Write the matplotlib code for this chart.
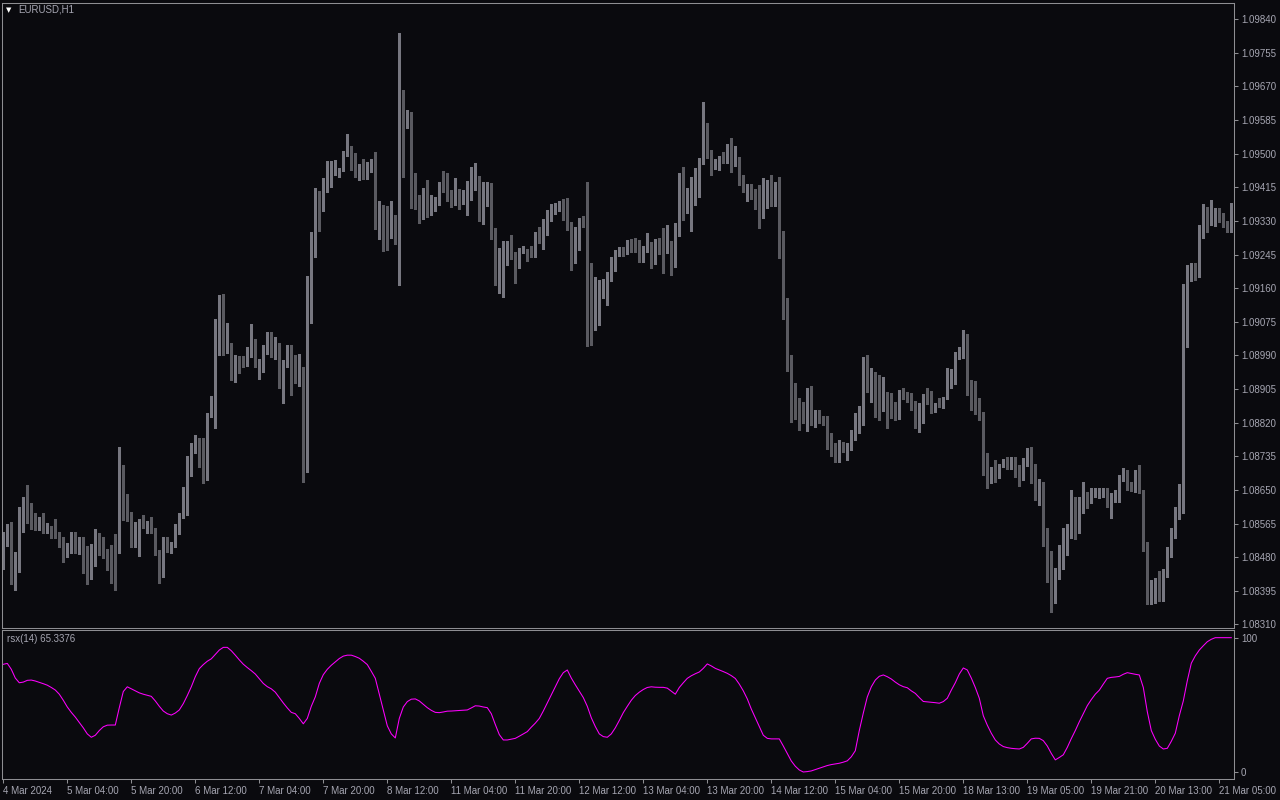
import matplotlib
matplotlib.use('Agg')
import matplotlib.pyplot as plt
import numpy as np

# EURUSD H1 candles (bar 0 = 4 Mar 12:00)
opens = [
    1.08483, 1.08531, 1.08559, 1.08422, 1.08481, 1.08592, 1.08627, 1.08610, 1.08574, 1.08560,
    1.08559, 1.08551, 1.08544, 1.08541, 1.08534, 1.08526, 1.08488, 1.08496, 1.08539, 1.08501,
    1.08526, 1.08463, 1.08458, 1.08466, 1.08503, 1.08498, 1.08491, 1.08466, 1.08460, 1.08501,
    1.08708, 1.08605, 1.08594, 1.08519, 1.08521, 1.08572, 1.08551, 1.08556, 1.08551, 1.08493,
    1.08433, 1.08524, 1.08501, 1.08511, 1.08541, 1.08582, 1.08612, 1.08723, 1.08759, 1.08769,
    1.08751, 1.08681, 1.08837, 1.08824, 1.09047, 1.09115, 1.09017, 1.09022, 1.08961, 1.08981,
    1.08979, 1.08971, 1.08989, 1.09027, 1.08974, 1.08976, 1.08996, 1.09029, 1.08996, 1.09014,
    1.08931, 1.08969, 1.09012, 1.08961, 1.08931, 1.08936, 1.08716, 1.09151, 1.09290, 1.09393,
    1.09358, 1.09411, 1.09459, 1.09462, 1.09449, 1.09456, 1.09502, 1.09504, 1.09474, 1.09449,
    1.09467, 1.09449, 1.09456, 1.09472, 1.09328, 1.09353, 1.09345, 1.09325, 1.09340, 1.09310,
    1.09575, 1.09568, 1.09603, 1.09398, 1.09383, 1.09363, 1.09411, 1.09355, 1.09358, 1.09371,
    1.09419, 1.09414, 1.09398, 1.09378, 1.09406, 1.09381, 1.09406, 1.09411, 1.09411, 1.09439,
    1.09338, 1.09406, 1.09419, 1.09290, 1.09191, 1.09234, 1.09259, 1.09267, 1.09247, 1.09234,
    1.09252, 1.09254, 1.09252, 1.09242, 1.09300, 1.09277, 1.09328, 1.09353, 1.09350, 1.09360,
    1.09376, 1.09371, 1.09312, 1.09239, 1.09295, 1.09330, 1.09328, 1.09194, 1.09105, 1.09163,
    1.09168, 1.09168, 1.09183, 1.09231, 1.09247, 1.09257, 1.09247, 1.09267, 1.09262, 1.09262,
    1.09231, 1.09259, 1.09272, 1.09224, 1.09280, 1.09274, 1.09259, 1.09267, 1.09221, 1.09300,
    1.09414, 1.09358, 1.09363, 1.09411, 1.09424, 1.09479, 1.09563, 1.09504, 1.09464, 1.09474,
    1.09482, 1.09477, 1.09525, 1.09477, 1.09482, 1.09431, 1.09414, 1.09416, 1.09391, 1.09371,
    1.09345, 1.09368, 1.09406, 1.09386, 1.09408, 1.09290, 1.09113, 1.08969, 1.08870, 1.08862,
    1.08857, 1.08842, 1.08905, 1.08837, 1.08845, 1.08835, 1.08819, 1.08771, 1.08764, 1.08723,
    1.08764, 1.08756, 1.08761, 1.08789, 1.08799, 1.08819, 1.08976, 1.08900, 1.08931, 1.08867,
    1.08855, 1.08877, 1.08870, 1.08855, 1.08830, 1.08898, 1.08890, 1.08893, 1.08857, 1.08830,
    1.08845, 1.08888, 1.08885, 1.08847, 1.08870, 1.08862, 1.08883, 1.08913, 1.08926, 1.08984,
    1.08989, 1.09019, 1.08916, 1.08885, 1.08852, 1.08847, 1.08721, 1.08681, 1.08703, 1.08685,
    1.08716, 1.08718, 1.08711, 1.08728, 1.08688, 1.08678, 1.08723, 1.08736, 1.08700, 1.08635,
    1.08668, 1.08541, 1.08468, 1.08372, 1.08433, 1.08498, 1.08508, 1.08534, 1.08620, 1.08577,
    1.08630, 1.08630, 1.08620, 1.08640, 1.08630, 1.08640, 1.08650, 1.08610, 1.08636, 1.08632,
    1.08683, 1.08693, 1.08657, 1.08647, 1.08693, 1.08645, 1.08516, 1.08385, 1.08390, 1.08420,
    1.08417, 1.08440, 1.08491, 1.08541, 1.08597, 1.08612, 1.09135, 1.09201, 1.09199, 1.09194,
    1.09312, 1.09363, 1.09325, 1.09338, 1.09345, 1.09343, 1.09325, 1.09307,
]
highs = [
    1.08544, 1.08564, 1.08569, 1.08493, 1.08607, 1.08632, 1.08663, 1.08617, 1.08592, 1.08582,
    1.08592, 1.08567, 1.08559, 1.08577, 1.08544, 1.08531, 1.08516, 1.08544, 1.08544, 1.08531,
    1.08531, 1.08508, 1.08514, 1.08551, 1.08541, 1.08531, 1.08501, 1.08511, 1.08539, 1.08759,
    1.08713, 1.08640, 1.08594, 1.08569, 1.08577, 1.08587, 1.08572, 1.08582, 1.08554, 1.08498,
    1.08531, 1.08531, 1.08519, 1.08564, 1.08592, 1.08658, 1.08736, 1.08769, 1.08789, 1.08781,
    1.08781, 1.08845, 1.08888, 1.09082, 1.09143, 1.09146, 1.09072, 1.09022, 1.08991, 1.08989,
    1.08989, 1.09012, 1.09070, 1.09032, 1.08981, 1.09017, 1.09049, 1.09049, 1.09037, 1.09022,
    1.08979, 1.09017, 1.09017, 1.08991, 1.08994, 1.08961, 1.09191, 1.09302, 1.09414, 1.09406,
    1.09439, 1.09482, 1.09482, 1.09484, 1.09464, 1.09507, 1.09550, 1.09520, 1.09502, 1.09474,
    1.09487, 1.09479, 1.09487, 1.09504, 1.09381, 1.09371, 1.09368, 1.09381, 1.09345, 1.09805,
    1.09661, 1.09611, 1.09606, 1.09451, 1.09396, 1.09414, 1.09434, 1.09396, 1.09391, 1.09429,
    1.09456, 1.09451, 1.09408, 1.09439, 1.09411, 1.09408, 1.09431, 1.09467, 1.09477, 1.09444,
    1.09429, 1.09429, 1.09426, 1.09312, 1.09262, 1.09280, 1.09280, 1.09295, 1.09252, 1.09262,
    1.09267, 1.09259, 1.09267, 1.09302, 1.09315, 1.09335, 1.09358, 1.09373, 1.09376, 1.09381,
    1.09386, 1.09388, 1.09328, 1.09315, 1.09338, 1.09343, 1.09429, 1.09224, 1.09189, 1.09181,
    1.09183, 1.09201, 1.09239, 1.09257, 1.09264, 1.09264, 1.09282, 1.09285, 1.09287, 1.09282,
    1.09267, 1.09300, 1.09277, 1.09285, 1.09287, 1.09312, 1.09320, 1.09280, 1.09325, 1.09451,
    1.09467, 1.09414, 1.09441, 1.09464, 1.09489, 1.09631, 1.09578, 1.09509, 1.09487, 1.09494,
    1.09504, 1.09525, 1.09540, 1.09520, 1.09492, 1.09446, 1.09424, 1.09424, 1.09411, 1.09421,
    1.09439, 1.09434, 1.09446, 1.09429, 1.09441, 1.09305, 1.09135, 1.08991, 1.08921, 1.08883,
    1.08872, 1.08908, 1.08913, 1.08852, 1.08852, 1.08837, 1.08837, 1.08794, 1.08769, 1.08776,
    1.08771, 1.08769, 1.08802, 1.08845, 1.08862, 1.08986, 1.08991, 1.08958, 1.08948, 1.08941,
    1.08936, 1.08898, 1.08895, 1.08872, 1.08903, 1.08908, 1.08898, 1.08895, 1.08875, 1.08870,
    1.08893, 1.08908, 1.08900, 1.08870, 1.08883, 1.08885, 1.08958, 1.08956, 1.08999, 1.09012,
    1.09055, 1.09044, 1.08928, 1.08926, 1.08883, 1.08847, 1.08744, 1.08708, 1.08726, 1.08716,
    1.08728, 1.08733, 1.08733, 1.08733, 1.08713, 1.08731, 1.08756, 1.08759, 1.08716, 1.08678,
    1.08670, 1.08554, 1.08496, 1.08453, 1.08511, 1.08554, 1.08564, 1.08650, 1.08632, 1.08632,
    1.08670, 1.08645, 1.08655, 1.08655, 1.08655, 1.08655, 1.08655, 1.08642, 1.08650, 1.08688,
    1.08706, 1.08700, 1.08670, 1.08700, 1.08713, 1.08650, 1.08519, 1.08422, 1.08428, 1.08445,
    1.08450, 1.08506, 1.08554, 1.08607, 1.08665, 1.09171, 1.09219, 1.09224, 1.09224, 1.09320,
    1.09373, 1.09365, 1.09383, 1.09363, 1.09363, 1.09350, 1.09330, 1.09376,
]
lows = [
    1.08450, 1.08508, 1.08412, 1.08397, 1.08443, 1.08544, 1.08567, 1.08551, 1.08549, 1.08549,
    1.08541, 1.08541, 1.08529, 1.08529, 1.08506, 1.08468, 1.08481, 1.08491, 1.08491, 1.08488,
    1.08440, 1.08412, 1.08425, 1.08458, 1.08486, 1.08478, 1.08448, 1.08415, 1.08397, 1.08491,
    1.08574, 1.08572, 1.08506, 1.08506, 1.08483, 1.08554, 1.08541, 1.08541, 1.08486, 1.08415,
    1.08430, 1.08493, 1.08491, 1.08506, 1.08539, 1.08579, 1.08587, 1.08685, 1.08744, 1.08708,
    1.08668, 1.08676, 1.08835, 1.08807, 1.08991, 1.08991, 1.08996, 1.08928, 1.08923, 1.08946,
    1.08961, 1.08964, 1.08986, 1.08961, 1.08931, 1.08948, 1.08994, 1.08986, 1.08981, 1.08908,
    1.08870, 1.08961, 1.08890, 1.08921, 1.08913, 1.08670, 1.08696, 1.09072, 1.09239, 1.09305,
    1.09355, 1.09403, 1.09416, 1.09446, 1.09441, 1.09456, 1.09494, 1.09459, 1.09441, 1.09434,
    1.09436, 1.09436, 1.09454, 1.09310, 1.09285, 1.09254, 1.09257, 1.09287, 1.09272, 1.09168,
    1.09441, 1.09565, 1.09363, 1.09360, 1.09325, 1.09335, 1.09340, 1.09345, 1.09355, 1.09371,
    1.09403, 1.09381, 1.09365, 1.09371, 1.09360, 1.09373, 1.09345, 1.09383, 1.09408, 1.09330,
    1.09322, 1.09368, 1.09285, 1.09168, 1.09148, 1.09138, 1.09219, 1.09234, 1.09173, 1.09211,
    1.09249, 1.09229, 1.09239, 1.09239, 1.09274, 1.09259, 1.09295, 1.09330, 1.09348, 1.09355,
    1.09333, 1.09307, 1.09206, 1.09224, 1.09257, 1.09315, 1.09014, 1.09017, 1.09055, 1.09067,
    1.09135, 1.09118, 1.09178, 1.09204, 1.09242, 1.09242, 1.09247, 1.09252, 1.09252, 1.09226,
    1.09226, 1.09252, 1.09211, 1.09221, 1.09247, 1.09199, 1.09249, 1.09194, 1.09214, 1.09292,
    1.09333, 1.09350, 1.09305, 1.09371, 1.09391, 1.09474, 1.09489, 1.09446, 1.09462, 1.09459,
    1.09477, 1.09477, 1.09454, 1.09469, 1.09421, 1.09403, 1.09381, 1.09386, 1.09360, 1.09312,
    1.09338, 1.09363, 1.09368, 1.09368, 1.09237, 1.09082, 1.08951, 1.08822, 1.08830, 1.08802,
    1.08819, 1.08799, 1.08814, 1.08809, 1.08819, 1.08814, 1.08754, 1.08736, 1.08721, 1.08721,
    1.08746, 1.08726, 1.08751, 1.08776, 1.08794, 1.08814, 1.08898, 1.08872, 1.08835, 1.08827,
    1.08850, 1.08807, 1.08832, 1.08827, 1.08830, 1.08880, 1.08872, 1.08852, 1.08807, 1.08797,
    1.08819, 1.08867, 1.08845, 1.08847, 1.08860, 1.08857, 1.08880, 1.08908, 1.08918, 1.08981,
    1.08984, 1.08890, 1.08852, 1.08842, 1.08827, 1.08688, 1.08655, 1.08668, 1.08670, 1.08680,
    1.08708, 1.08703, 1.08703, 1.08683, 1.08660, 1.08675, 1.08711, 1.08668, 1.08625, 1.08612,
    1.08508, 1.08417, 1.08342, 1.08364, 1.08425, 1.08450, 1.08486, 1.08529, 1.08526, 1.08541,
    1.08592, 1.08605, 1.08617, 1.08632, 1.08630, 1.08632, 1.08607, 1.08579, 1.08620, 1.08620,
    1.08673, 1.08650, 1.08647, 1.08645, 1.08642, 1.08496, 1.08362, 1.08362, 1.08364, 1.08369,
    1.08369, 1.08430, 1.08481, 1.08529, 1.08577, 1.08592, 1.09012, 1.09178, 1.09181, 1.09189,
    1.09287, 1.09302, 1.09320, 1.09317, 1.09328, 1.09315, 1.09302, 1.09302,
]
closes = [
    1.08531, 1.08556, 1.08420, 1.08483, 1.08592, 1.08625, 1.08607, 1.08572, 1.08556, 1.08562,
    1.08551, 1.08554, 1.08534, 1.08534, 1.08524, 1.08488, 1.08498, 1.08539, 1.08498, 1.08524,
    1.08460, 1.08455, 1.08468, 1.08508, 1.08496, 1.08491, 1.08466, 1.08458, 1.08443, 1.08711,
    1.08602, 1.08592, 1.08519, 1.08526, 1.08569, 1.08559, 1.08559, 1.08549, 1.08491, 1.08433,
    1.08524, 1.08498, 1.08514, 1.08546, 1.08589, 1.08615, 1.08726, 1.08761, 1.08769, 1.08749,
    1.08678, 1.08842, 1.08860, 1.09047, 1.09115, 1.09017, 1.09024, 1.08961, 1.08984, 1.08971,
    1.08961, 1.08991, 1.09024, 1.08971, 1.08979, 1.09001, 1.09029, 1.08996, 1.09012, 1.08931,
    1.08971, 1.09012, 1.08961, 1.08933, 1.08938, 1.08718, 1.09151, 1.09292, 1.09396, 1.09358,
    1.09416, 1.09462, 1.09464, 1.09484, 1.09462, 1.09502, 1.09504, 1.09472, 1.09446, 1.09469,
    1.09449, 1.09459, 1.09474, 1.09328, 1.09353, 1.09345, 1.09325, 1.09340, 1.09310, 1.09575,
    1.09568, 1.09603, 1.09396, 1.09386, 1.09363, 1.09411, 1.09355, 1.09393, 1.09371, 1.09421,
    1.09414, 1.09396, 1.09381, 1.09406, 1.09381, 1.09406, 1.09414, 1.09416, 1.09439, 1.09338,
    1.09408, 1.09421, 1.09287, 1.09191, 1.09236, 1.09267, 1.09264, 1.09244, 1.09234, 1.09254,
    1.09259, 1.09232, 1.09242, 1.09297, 1.09277, 1.09328, 1.09355, 1.09355, 1.09360, 1.09376,
    1.09368, 1.09310, 1.09239, 1.09297, 1.09333, 1.09328, 1.09194, 1.09098, 1.09163, 1.09168,
    1.09173, 1.09186, 1.09234, 1.09252, 1.09262, 1.09252, 1.09267, 1.09259, 1.09259, 1.09231,
    1.09262, 1.09272, 1.09226, 1.09280, 1.09269, 1.09259, 1.09269, 1.09224, 1.09300, 1.09414,
    1.09355, 1.09365, 1.09414, 1.09429, 1.09484, 1.09563, 1.09499, 1.09464, 1.09472, 1.09492,
    1.09477, 1.09522, 1.09477, 1.09482, 1.09429, 1.09414, 1.09419, 1.09388, 1.09368, 1.09343,
    1.09371, 1.09406, 1.09388, 1.09406, 1.09290, 1.09110, 1.08974, 1.08867, 1.08862, 1.08855,
    1.08842, 1.08905, 1.08830, 1.08845, 1.08832, 1.08819, 1.08771, 1.08761, 1.08723, 1.08764,
    1.08756, 1.08764, 1.08792, 1.08802, 1.08822, 1.08974, 1.08903, 1.08931, 1.08865, 1.08850,
    1.08872, 1.08870, 1.08850, 1.08830, 1.08898, 1.08885, 1.08877, 1.08855, 1.08827, 1.08847,
    1.08885, 1.08883, 1.08847, 1.08867, 1.08862, 1.08883, 1.08918, 1.08931, 1.08986, 1.08991,
    1.09017, 1.08913, 1.08880, 1.08847, 1.08847, 1.08718, 1.08678, 1.08703, 1.08685, 1.08711,
    1.08721, 1.08711, 1.08728, 1.08685, 1.08675, 1.08726, 1.08733, 1.08698, 1.08632, 1.08668,
    1.08539, 1.08466, 1.08359, 1.08438, 1.08498, 1.08511, 1.08536, 1.08620, 1.08577, 1.08630,
    1.08631, 1.08620, 1.08642, 1.08647, 1.08647, 1.08647, 1.08610, 1.08637, 1.08637, 1.08683,
    1.08693, 1.08655, 1.08650, 1.08695, 1.08645, 1.08516, 1.08385, 1.08392, 1.08420, 1.08417,
    1.08440, 1.08491, 1.08541, 1.08602, 1.08627, 1.09135, 1.09204, 1.09219, 1.09191, 1.09312,
    1.09365, 1.09325, 1.09345, 1.09348, 1.09338, 1.09320, 1.09307, 1.09371,
]

# rsx(14) per bar
rsx = [
    80.2, 80.9, 76.5, 70, 66.5, 67, 68.3, 68.5, 67.8, 66.8,
    65.8, 64.7, 63, 61.1, 58, 53.5, 48.5, 44.5, 41, 37,
    33, 28.5, 26, 27.5, 31, 33.8, 35, 35.1, 35.1, 48,
    60, 63.5, 62, 60.5, 59, 58, 57.2, 56.4, 53, 49,
    45.5, 43.5, 42.5, 44, 46.3, 51, 57, 63.5, 71, 77,
    80, 82.5, 84.3, 87.5, 90.8, 92.8, 92.8, 90.3, 87, 83.5,
    80.3, 77.8, 75.5, 73, 69.5, 66, 63.6, 62, 59.5, 55.5,
    51.5, 47.8, 44.5, 43.5, 40, 36, 40, 49, 56, 66,
    72.5, 76.5, 79.5, 82, 84.5, 86.3, 87, 87, 86, 84.7,
    82.5, 80, 75, 69.8, 58, 46, 34.5, 28.5, 25.5, 40,
    48.5, 52.5, 54.3, 54.5, 53, 50.5, 48, 46, 44.5, 44.3,
    44.8, 45.4, 45.5, 45.7, 45.9, 46.1, 46.3, 47.8, 49.4, 49.2,
    48.5, 48, 43.5, 35.5, 28, 24, 24, 24.6, 25.2, 26.8,
    28.5, 30.2, 33.5, 36.5, 40, 45.5, 51.5, 57.5, 63.5, 69.5,
    74, 76, 70, 65, 60.3, 55.5, 49, 40.5, 34, 28.5,
    26.5, 26, 28.5, 33, 38.5, 44.3, 49, 53.5, 57, 59.5,
    61.5, 63, 63.5, 63.2, 63.1, 63.1, 62.5, 60.3, 58, 63,
    66.5, 69.8, 71.7, 73.2, 74.5, 77.2, 80.5, 79, 77.2, 76,
    74.8, 73.5, 71.8, 69.7, 65.5, 60.5, 54.5, 47, 40.5, 34,
    27.5, 25.2, 24.8, 24.8, 24.8, 19.5, 14, 8.4, 4.5, 1.7,
    0.2, 0.5, 1, 2, 3, 4, 5, 5.7, 6.2, 6.7,
    7.5, 8.5, 11.5, 16, 31, 44, 56, 63.5, 68.5, 71.3,
    72.3, 71, 69.3, 67, 65, 63.6, 62.8, 60.5, 58.6, 55.5,
    52.6, 52.3, 52, 51.7, 51.3, 52.5, 55, 61, 66.5, 73,
    77.5, 76, 70, 63, 55, 42, 35, 29, 24, 21,
    19.1, 18.3, 17.8, 17.5, 17.3, 18.5, 21.5, 24.8, 25.3, 25.2,
    23.5, 19.5, 14, 9.2, 11, 13, 18.5, 25, 31, 37.5,
    43.5, 49.5, 54, 58, 61, 65.5, 69.8, 70.5, 70.8, 71.2,
    72.8, 74, 73.4, 72.8, 72.3, 63, 45, 31, 24.5, 19.5,
    17.3, 17.8, 23, 29, 42, 53, 68, 81, 86.5, 90.8,
    94, 97, 98.8, 100, 100, 100, 100, 100,
]

price_ticks = [1.09840, 1.09755, 1.09670, 1.09585, 1.09500, 1.09415, 1.09330, 1.09245,
               1.09160, 1.09075, 1.08990, 1.08905, 1.08820, 1.08735, 1.08650, 1.08565,
               1.08480, 1.08395, 1.08310]
time_labels = ['4 Mar 2024', '5 Mar 04:00', '5 Mar 20:00', '6 Mar 12:00', '7 Mar 04:00',
               '7 Mar 20:00', '8 Mar 12:00', '11 Mar 04:00', '11 Mar 20:00', '12 Mar 12:00',
               '13 Mar 04:00', '13 Mar 20:00', '14 Mar 12:00', '15 Mar 04:00', '15 Mar 20:00',
               '18 Mar 13:00', '19 Mar 05:00', '19 Mar 21:00', '20 Mar 13:00', '21 Mar 05:00']

bg = '#0a0a0e'
bull = '#9a9aa8'
bear = '#58585e'
bull_wick = '#777780'
bear_wick = '#5a5a60'
frame = '#8e8e92'
txt = '#a6a6b2'

plt.rcParams['font.family'] = ['Liberation Sans', 'DejaVu Sans']

W, H = 1280, 800
fig = plt.figure(figsize=(12.8, 8), dpi=100, facecolor=bg)
ax = fig.add_axes([2 / W, 1 - 628 / H, 1232 / W, 625 / H], facecolor=bg)
ax2 = fig.add_axes([2 / W, 1 - 779 / H, 1232 / W, 149 / H], facecolor=bg)

o = np.array(opens)
h = np.array(highs)
l = np.array(lows)
c = np.array(closes)
x = np.arange(len(o))
up = c >= o

ax.vlines(x, l, h, colors=np.where(up, bull_wick, bear_wick), linewidth=0.75, antialiased=False)
ax.bar(x, np.maximum(np.abs(c - o), 0.00003), bottom=np.minimum(o, c), width=0.75,
       color=np.where(up, bull, bear), linewidth=0, antialiased=False)

ax.set_xlim(-0.325, 307.675)
ax.set_ylim(1.08301, 1.09881)
ax.set_yticks(price_ticks)
ax.set_yticklabels([f'{p:.5f}' for p in price_ticks])
ax.yaxis.tick_right()
ax.tick_params(axis='x', bottom=False, labelbottom=False)
ax.tick_params(axis='y', direction='out', length=3, width=0.75, color=frame,
               labelsize=7, labelcolor=txt, pad=2)

ax2.plot(x, rsx, color='#ff00ff', linewidth=0.75)
ax2.set_xlim(-0.325, 307.675)
ax2.set_ylim(-5, 105.7)
ax2.set_yticks([100, 0])
ax2.set_yticklabels(['100', '0'])
ax2.yaxis.tick_right()
ax2.set_xticks(np.arange(0, len(x), 16)[:len(time_labels)])
ax2.set_xticklabels(time_labels, ha='left')
ax2.tick_params(axis='y', direction='out', length=3, width=0.75, color=frame,
                labelsize=7, labelcolor=txt, pad=2)
ax2.tick_params(axis='x', direction='out', length=3, width=0.75, color=frame,
                labelsize=7, labelcolor=txt, pad=2)

for a in (ax, ax2):
    for s in a.spines.values():
        s.set_color(frame)
        s.set_linewidth(0.75)

fig.text(9 / W, 1 - 10 / H, '\u25BC', color='white', fontsize=5, ha='center', va='center',
         family='DejaVu Sans')
fig.text(18 / W, 1 - 10 / H, 'EURUSD,H1', color=txt, fontsize=7, va='center')
fig.text(7 / W, 1 - 639 / H, 'rsx(14) 65.3376', color=txt, fontsize=7, va='center')

fig.savefig('out.png', dpi=100, facecolor=bg)
